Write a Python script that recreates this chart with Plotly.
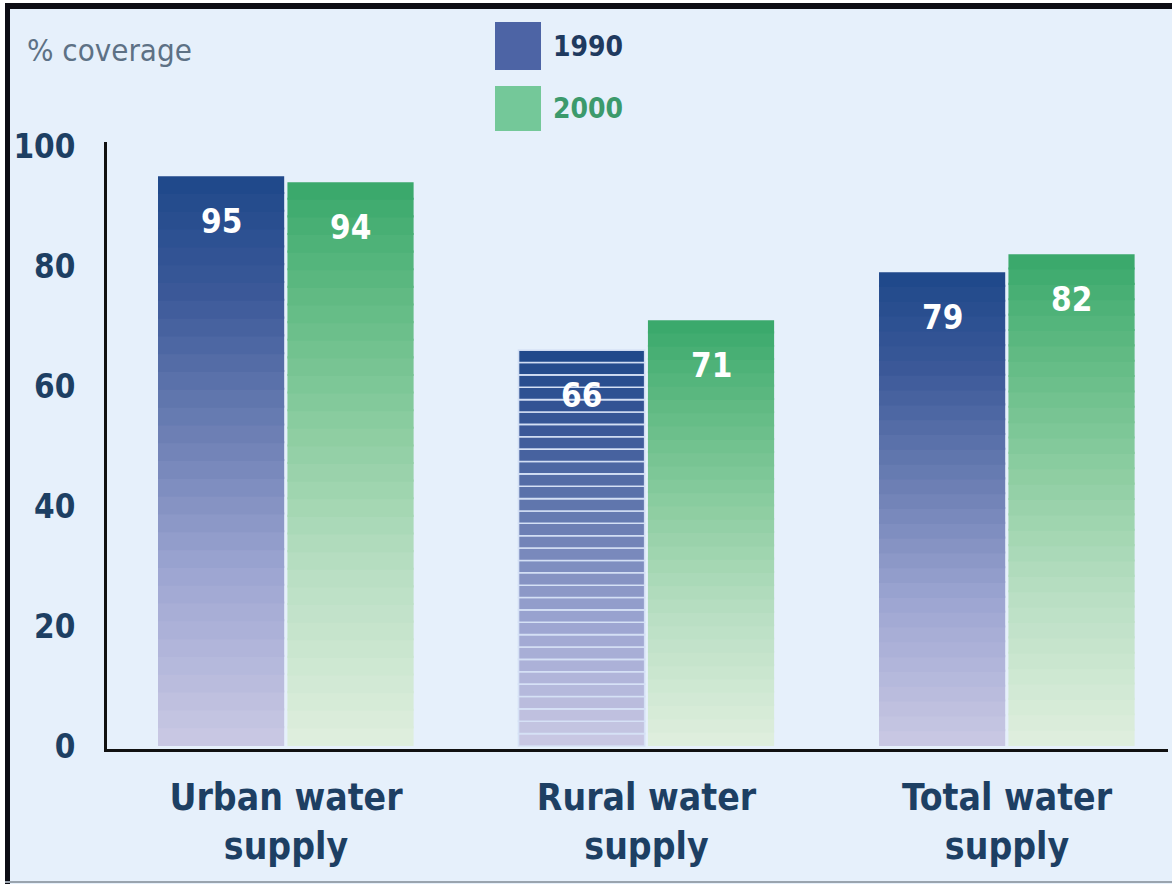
import plotly.graph_objects as go

# ---------------- data ----------------
categories = ["Urban water<br>supply", "Rural water<br>supply", "Total water<br>supply"]
years = ["1990", "2000"]
values_1990 = [95, 66, 79]
values_2000 = [94, 71, 82]
y_ticks = [0, 20, 40, 60, 80, 100]
y_title = "% coverage"

# ---------------- layout constants ----------------
W, H = 1172, 884
ML, MR, MT, MB = 107, 4, 142, 135
PW, PH = W - ML - MR, H - MT - MB
FONT = "Liberation Sans Narrow, Arial Narrow, DejaVu Sans Condensed, sans-serif"
NAVY = "#1d3f63"
BG = "#e6f0fb"
N_SEG = 32
BAR_W = 0.35
OFFSETS = {"1990": -0.355, "2000": 0.004}
OVERLAP = 0.35  # small overlap (axis units) between gradient slices to hide seams

def px_x(p):
    return (p - ML) / PW

def px_y(p):
    return (H - MB - p) / PH

def lerp_stops(stops, f):
    for (f0, c0), (f1, c1) in zip(stops[:-1], stops[1:]):
        if f0 <= f <= f1:
            t = (f - f0) / (f1 - f0)
            c = [round(a + (b - a) * t) for a, b in zip(c0, c1)]
            return "rgb(%d,%d,%d)" % tuple(c)
    c = stops[-1][1]
    return "rgb(%d,%d,%d)" % tuple(c)

stops_1990 = [(0.0, (202, 201, 228)), (0.3, (158, 166, 210)), (0.55, (108, 127, 180)),
              (0.8, (58, 88, 152)), (1.0, (30, 72, 138))]
stops_2000 = [(0.0, (224, 239, 222)), (0.3, (186, 223, 196)), (0.55, (142, 206, 162)),
              (0.8, (96, 186, 131)), (1.0, (56, 168, 106))]

x_idx = list(range(len(categories)))
fig = go.Figure()

series = [("1990", values_1990, stops_1990), ("2000", values_2000, stops_2000)]
for name, vals, stops in series:
    for k in range(N_SEG):
        f = (k + 0.5) / N_SEG
        color = lerp_stops(stops, f)
        bases = [v * k / N_SEG for v in vals]
        heights = [min(v / N_SEG + OVERLAP, v - b) for v, b in zip(vals, bases)]
        if name == "1990":
            line_col = ["rgba(0,0,0,0)", "rgba(214,226,246,0.95)", "rgba(0,0,0,0)"]
            line_w = [0, 1.6, 0]
            h_used = [h if i != 1 else vals[1] / N_SEG for i, h in enumerate(heights)]
        else:
            line_col = ["rgba(0,0,0,0)"] * 3
            line_w = [0, 0, 0]
            h_used = heights
        fig.add_trace(go.Bar(
            x=x_idx,
            y=h_used,
            base=bases,
            width=BAR_W,
            offset=OFFSETS[name],
            marker=dict(color=color, line=dict(color=line_col, width=line_w)),
            showlegend=False,
            hoverinfo="skip",
        ))

# value labels
annotations = []
for name, vals, _ in series:
    for i, v in zip(x_idx, vals):
        annotations.append(dict(
            x=i + OFFSETS[name] + BAR_W / 2, y=v, xref="x", yref="y",
            text="<b>%d</b>" % v, showarrow=False, yshift=-45,
            font=dict(family=FONT, size=33, color="white"),
            xanchor="center", yanchor="middle",
        ))

# "% coverage"
annotations.append(dict(
    x=px_x(25), y=px_y(50), xref="paper", yref="paper", text=y_title,
    showarrow=False, xanchor="left", yanchor="middle",
    font=dict(family=FONT, size=31, color="#5d7185"),
))
# legend text
annotations.append(dict(
    x=px_x(551), y=px_y(46), xref="paper", yref="paper", text="<b>%s</b>" % years[0],
    showarrow=False, xanchor="left", yanchor="middle",
    font=dict(family=FONT, size=28, color="#1f3a5f"),
))
annotations.append(dict(
    x=px_x(551), y=px_y(108), xref="paper", yref="paper", text="<b>%s</b>" % years[1],
    showarrow=False, xanchor="left", yanchor="middle",
    font=dict(family=FONT, size=28, color="#3c9a6c"),
))

shapes = [
    # legend squares
    dict(type="rect", xref="paper", yref="paper", x0=px_x(495), x1=px_x(541),
         y0=px_y(70), y1=px_y(22), fillcolor="#4d64a5", line=dict(width=0)),
    dict(type="rect", xref="paper", yref="paper", x0=px_x(495), x1=px_x(541),
         y0=px_y(131), y1=px_y(86), fillcolor="#74c899", line=dict(width=0)),
    # frame: white outer strip + black top/left edges
    dict(type="rect", xref="paper", yref="paper", x0=px_x(0), x1=px_x(5),
         y0=px_y(H), y1=px_y(0), fillcolor="white", line=dict(width=0)),
    dict(type="rect", xref="paper", yref="paper", x0=px_x(0), x1=px_x(W),
         y0=px_y(3), y1=px_y(0), fillcolor="white", line=dict(width=0)),
    dict(type="rect", xref="paper", yref="paper", x0=px_x(5), x1=px_x(W),
         y0=px_y(9), y1=px_y(3), fillcolor="#0d0d14", line=dict(width=0)),
    dict(type="rect", xref="paper", yref="paper", x0=px_x(5), x1=px_x(10),
         y0=px_y(H), y1=px_y(3), fillcolor="#0d0d14", line=dict(width=0)),
    dict(type="line", xref="paper", yref="paper", x0=px_x(5), x1=px_x(W),
         y0=px_y(882), y1=px_y(882), line=dict(color="#9aa4ae", width=2)),
]

fig.update_layout(
    width=W, height=H,
    margin=dict(l=ML, r=MR, t=MT, b=MB, pad=0, autoexpand=False),
    paper_bgcolor=BG, plot_bgcolor=BG,
    barmode="overlay",
    showlegend=False,
    annotations=annotations,
    shapes=shapes,
    xaxis=dict(
        range=[-0.4965, 2.4466], tickvals=x_idx, ticktext=categories,
        showgrid=False, zeroline=False, showline=True, linecolor="#111111", linewidth=3,
        ticks="", ticklabelstandoff=14, automargin=False,
        tickfont=dict(family=FONT, size=37, color=NAVY, weight="bold"),
    ),
    yaxis=dict(
        range=[-0.5, 100.7], tickvals=y_ticks, ticktext=[str(t) for t in y_ticks],
        showgrid=False, zeroline=False, showline=True, linecolor="#111111", linewidth=3,
        ticks="", ticklabelstandoff=22, automargin=False,
        tickfont=dict(family=FONT, size=33, color=NAVY, weight="bold"),
    ),
)

fig.write_html(
    "out.html",
    config={"displayModeBar": False},
    post_script="document.body.style.margin='0px';document.body.style.overflow='hidden';",
)
